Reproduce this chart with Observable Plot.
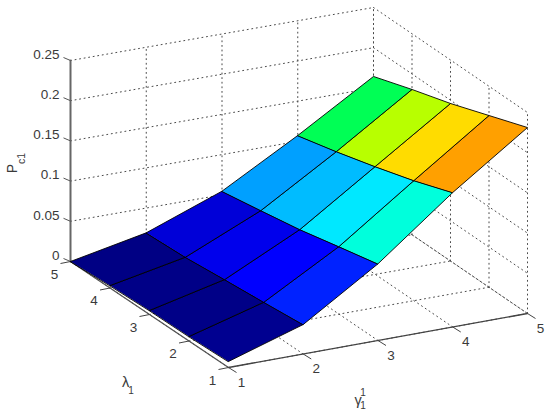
<!DOCTYPE html>
<html>
<head>
<meta charset="utf-8">
<script src="https://cdn.jsdelivr.net/npm/d3@7"></script>
<script src="https://cdn.jsdelivr.net/npm/@observablehq/plot@0.6"></script>
<style>
html,body{margin:0;padding:0;background:#fff}
svg{display:block;background:#fff}
</style>
</head>
<body>
<div id="chart"></div>
<script>
const gammaTicks = [1, 2, 3, 4, 5];
const lambdaTicks = [1, 2, 3, 4, 5];
const zTicks = [0, 0.05, 0.1, 0.15, 0.2, 0.25];
const zLabels = ["0", "0.05", "0.1", "0.15", "0.2", "0.25"];

// P_c1 by lambda (rows 1..5) and gamma (columns 1..5)
const lambda1 = [0.0075, 0.0367, 0.0954, 0.1673, 0.2313];
const lambda2 = [0.0056, 0.0316, 0.0841, 0.1495, 0.2136];
const lambda3 = [0.0050, 0.0269, 0.0725, 0.1342, 0.1959];
const lambda4 = [0.0030, 0.0218, 0.0633, 0.1201, 0.1807];
const lambda5 = [0.0000, 0.0192, 0.0545, 0.1073, 0.1642];
const pc1 = [lambda1, lambda2, lambda3, lambda4, lambda5];

// colormap of the surface
const colorStops = [0, 0.006, 0.0218, 0.0316, 0.0367, 0.0633, 0.0725, 0.0841, 0.0954, 0.1201, 0.1342, 0.1495, 0.1673, 0.2313];
const colorMap = ["#00007f", "#000088", "#0000d8", "#0000ff", "#0022ff", "#00a0ff", "#00bcff", "#00e8ff", "#00ffdc", "#00ff55", "#b8ff00", "#ffdc00", "#ffa000", "#ff0000"];

// view: screen position of the four floor corners
const view = {
  g1l1: [228, 367], g5l1: [527, 313], g1l5: [70, 261], g5l5: [373, 208], zScale: 804
};
function project(g, l, z) {
  const u = (g - 1) / 4, v = (l - 1) / 4;
  const mix = i => (1 - u) * (1 - v) * view.g1l1[i] + u * (1 - v) * view.g5l1[i]
    + (1 - u) * v * view.g1l5[i] + u * v * view.g5l5[i];
  return {px: mix(0), py: mix(1) - z * view.zScale};
}

// surface cells
const cells = [];
for (let i = 0; i < 4; ++i) for (let j = 0; j < 4; ++j) {
  const c = pc1[j][i];
  const corners = [[i, j], [i + 1, j], [i + 1, j + 1], [i, j + 1]];
  for (const [a, b] of corners) {
    cells.push({id: `${i}-${j}`, c, ...project(gammaTicks[a], lambdaTicks[b], pc1[b][a])});
  }
}

// dotted grid
const grid = [];
const seg = (id, p, q) => grid.push({id, ...project(...p)}, {id, ...project(...q)});
const zMax = 0.25;
for (const z of zTicks) {
  seg(`wl${z}`, [1, 5, z], [5, 5, z]);
  seg(`wr${z}`, [5, 5, z], [5, 1, z]);
}
for (const g of gammaTicks) {
  seg(`vl${g}`, [g, 5, 0], [g, 5, zMax]);
  seg(`fg${g}`, [g, 1, 0], [g, 5, 0]);
}
for (const l of lambdaTicks) {
  seg(`vr${l}`, [5, l, 0], [5, l, zMax]);
  seg(`fl${l}`, [1, l, 0], [5, l, 0]);
}

// axes
const zAxis = [project(1, 5, 0), project(1, 5, zMax)];
const lAxis = [project(1, 5, 0), project(1, 1, 0)];
const gAxis = [project(1, 1, 0), project(5, 1, 0)];

const zPts = zTicks.map((z, i) => ({...project(1, 5, z), label: zLabels[i]}));
const lPts = lambdaTicks.map(l => ({...project(1, l, 0), label: String(l)}));
const gPts = gammaTicks.map(g => ({...project(g, 1, 0), label: String(g)}));

const font = "Liberation Sans, Arial, sans-serif";
const ink = "#3a3a3a";

const chart = Plot.plot({
  width: 550,
  height: 416,
  margin: 0,
  x: {domain: [0, 550], range: [0, 550], axis: null},
  y: {domain: [0, 416], range: [0, 416], axis: null},
  color: {type: "linear", domain: colorStops, range: colorMap},
  style: {background: "#fff", fontFamily: font},
  marks: [
    Plot.line(grid, {x: "px", y: "py", z: "id", stroke: "#4a4a4a", strokeWidth: 1, strokeDasharray: "1,3.6"}),
    Plot.line(zAxis, {x: "px", y: "py", stroke: "#666", strokeWidth: 2}),
    Plot.line(lAxis, {x: "px", y: "py", stroke: "#555", strokeWidth: 1.3}),
    Plot.line(gAxis, {x: "px", y: "py", stroke: "#444", strokeWidth: 1.3}),
    Plot.link(zPts, {x1: "px", y1: "py", x2: d => d.px - 7, y2: d => d.py - 3, stroke: "#555"}),
    Plot.link(lPts, {x1: "px", y1: "py", x2: d => d.px - 10, y2: d => d.py + 2, stroke: "#444"}),
    Plot.link(gPts, {x1: "px", y1: "py", x2: d => d.px + 8, y2: d => d.py + 5, stroke: "#444"}),
    Plot.line(cells, {x: "px", y: "py", z: "id", fill: "c", stroke: "#000", strokeWidth: 0.9, curve: "linear-closed"}),
    Plot.text(zPts, {x: "px", y: "py", text: "label", dx: -11, dy: -6, textAnchor: "end", fontSize: 13.5, fill: ink}),
    Plot.text(lPts, {x: "px", y: "py", text: "label", dx: -16, dy: 13, fontSize: 13.5, fill: ink}),
    Plot.text(gPts, {x: "px", y: "py", text: "label", dx: 13, dy: 15, fontSize: 13.5, fill: ink}),
    Plot.text(["P"], {x: () => 12, y: () => 168, text: d => d, rotate: -90, fontSize: 14, fill: ink}),
    Plot.text(["c1"], {x: () => 21, y: () => 158, text: d => d, rotate: -90, fontSize: 10.5, fill: ink}),
    Plot.text(["λ"], {x: () => 125, y: () => 382, text: d => d, fontSize: 14.5, fill: ink}),
    Plot.text(["1"], {x: () => 130.5, y: () => 390, text: d => d, fontSize: 10, fill: ink}),
    Plot.text(["γ"], {x: () => 357.5, y: () => 400, text: d => d, fontSize: 14.5, fill: ink}),
    Plot.text(["1"], {x: () => 362.5, y: () => 392.5, text: d => d, fontSize: 10, fill: ink}),
    Plot.text(["1"], {x: () => 362.5, y: () => 405, text: d => d, fontSize: 10, fill: ink})
  ]
});
document.getElementById("chart").appendChild(chart);
</script>
</body>
</html>
